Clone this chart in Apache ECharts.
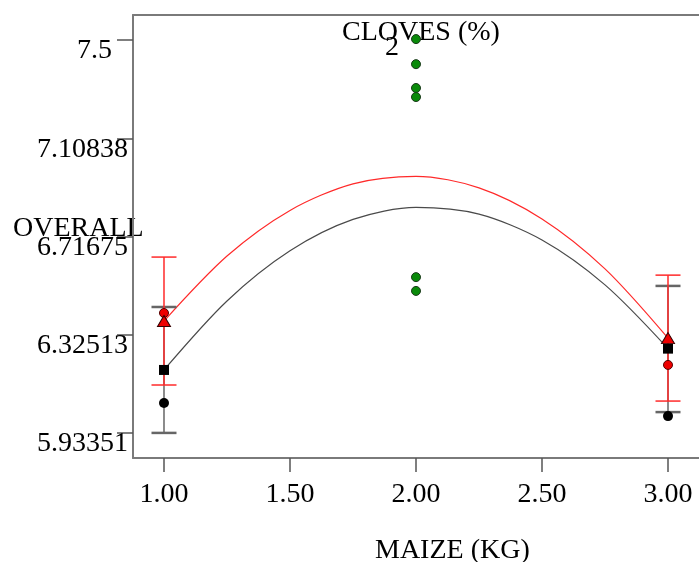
<!DOCTYPE html>
<html>
<head>
<meta charset="utf-8">
<script src="https://cdn.jsdelivr.net/npm/echarts@6/dist/echarts.min.js"></script>
<style>
  html, body { margin: 0; padding: 0; background: #fff; }
  #chart { width: 699px; height: 562px; }
</style>
</head>
<body>
<div id="chart"></div>
<script>
// values
var xTicks = [1, 1.5, 2, 2.5, 3];
var yTicks = [5.93351, 6.32513, 6.71675, 7.10838, 7.5];

// group 2 observations (green) at maize = 2
var cloves2X = [2, 2, 2, 2, 2, 2];
var cloves2Y = [7.504, 7.404, 7.309, 7.273, 6.555, 6.500];

// single observations at maize 1 and 3
var obsX = [1, 3];
var blackObs = [6.053, 6.001];
var redObs = [6.412, 6.205];

// means with error bars
var blackMean = [6.185, 6.27];
var blackLow = [5.934, 6.017];
var blackHigh = [6.436, 6.520];
var redMean = [6.380, 6.312];
var redLow = [6.125, 6.061];
var redHigh = [6.635, 6.563];

// fitted quadratic curves
var fitX = [1, 1.25, 1.5, 1.75, 2, 2.25, 2.5, 2.75, 3];
var blackFit = [6.185, 6.46, 6.66, 6.785, 6.833, 6.806, 6.703, 6.524, 6.27];
var redFit = [6.380, 6.639, 6.821, 6.927, 6.957, 6.911, 6.787, 6.588, 6.312];

function pairs(xs, ys) {
  return xs.map(function (x, i) { return [x, ys[i]]; });
}
function bars(xs, lo, hi) {
  return xs.map(function (x, i) { return [x, lo[i], hi[i]]; });
}

var serif = '"Liberation Serif", "Times New Roman", serif';

function errorBar(color, capWidth) {
  return function (params, api) {
    var x = api.value(0);
    var lo = api.coord([x, api.value(1)]);
    var hi = api.coord([x, api.value(2)]);
    var hw = 12.5;
    return {
      type: 'group',
      children: [
        { type: 'line', shape: { x1: lo[0], y1: lo[1], x2: hi[0], y2: hi[1] }, style: { stroke: color, lineWidth: 1.5 } },
        { type: 'line', shape: { x1: lo[0] - hw, y1: lo[1], x2: lo[0] + hw, y2: lo[1] }, style: { stroke: color, lineWidth: capWidth } },
        { type: 'line', shape: { x1: hi[0] - hw, y1: hi[1], x2: hi[0] + hw, y2: hi[1] }, style: { stroke: color, lineWidth: capWidth } }
      ]
    };
  };
}

var myChart = echarts.init(document.getElementById('chart'));
myChart.setOption({
  animation: false,
  backgroundColor: '#fff',
  textStyle: { fontFamily: serif },
  grid: { left: 133, right: 0, top: 15, bottom: 104 },
  xAxis: [{
    type: 'value',
    min: 0.877, max: 3.123,
    axisLine: { show: true, lineStyle: { color: '#7a7a7a', width: 2 } },
    axisTick: { show: true, length: 14, customValues: xTicks, lineStyle: { color: '#555', width: 1.5 } },
    axisLabel: {
      customValues: xTicks, margin: 23,
      fontFamily: serif, fontSize: 28, color: '#000',
      formatter: function (v) { return v.toFixed(2); }
    },
    splitLine: { show: false }
  }, {
    // top frame line only
    type: 'value', position: 'top',
    min: 0.877, max: 3.123,
    axisLine: { show: true, lineStyle: { color: '#7a7a7a', width: 2 } },
    axisTick: { show: false }, axisLabel: { show: false }, splitLine: { show: false }
  }],
  yAxis: {
    type: 'value',
    min: 5.834, max: 7.6,
    axisLine: { show: true, lineStyle: { color: '#7a7a7a', width: 2 } },
    axisTick: { show: true, length: 16, customValues: yTicks, lineStyle: { color: '#555', width: 1.5 } },
    axisLabel: {
      customValues: yTicks, margin: 5,
      fontFamily: serif, fontSize: 28, color: '#000',
      verticalAlign: 'middle',
      padding: [22, 0, 0, 0],
      formatter: function (v) { return v === 7.5 ? '{p|7.5}' : String(v); },
      rich: { p: { fontFamily: serif, fontSize: 28, color: '#000', padding: [0, 16, 0, 0] } }
    },
    splitLine: { show: false }
  },
  graphic: [
    { type: 'text', left: 13, top: 215, style: { text: 'OVERALL', font: '28px ' + serif, fill: '#000' } },
    { type: 'text', left: 342, top: 19, style: { text: 'CLOVES (%)', font: '28px ' + serif, fill: '#000' } },
    { type: 'text', left: 385, top: 34, style: { text: '2', font: '28px ' + serif, fill: '#000' } },
    { type: 'text', left: 375, top: 537, style: { text: 'MAIZE (KG)', font: '28px ' + serif, fill: '#000' } }
  ],
  series: [
    {
      type: 'line', data: pairs(fitX, blackFit), smooth: 0.3, showSymbol: false,
      lineStyle: { color: '#4a4a4a', width: 1.2 }, z: 2
    },
    {
      type: 'line', data: pairs(fitX, redFit), smooth: 0.3, showSymbol: false,
      lineStyle: { color: '#ff2a2a', width: 1.2 }, z: 2
    },
    {
      type: 'custom', data: bars(obsX, blackLow, blackHigh),
      encode: { x: 0, y: [1, 2] }, renderItem: errorBar('#666', 2.5), z: 3
    },
    {
      type: 'custom', data: bars(obsX, redLow, redHigh),
      encode: { x: 0, y: [1, 2] }, renderItem: errorBar('#ff2a2a', 1.5), z: 4
    },
    {
      type: 'scatter', data: pairs(obsX, blackObs), symbol: 'circle', symbolSize: 10,
      itemStyle: { color: '#000', opacity: 1 }, z: 5
    },
    {
      type: 'scatter', data: pairs(obsX, redObs), symbol: 'circle', symbolSize: 9,
      itemStyle: { color: '#ee0000', borderColor: '#550000', borderWidth: 1, opacity: 1 }, z: 5
    },
    {
      type: 'scatter', data: pairs(obsX, blackMean), symbol: 'rect', symbolSize: 10,
      itemStyle: { color: '#000', opacity: 1 }, z: 6
    },
    {
      type: 'scatter', data: pairs(obsX, redMean), symbol: 'triangle', symbolSize: [13, 11],
      itemStyle: { color: '#ee0000', borderColor: '#330000', borderWidth: 1, opacity: 1 }, z: 6
    },
    {
      type: 'scatter', data: pairs(cloves2X, cloves2Y), symbol: 'circle', symbolSize: 9,
      itemStyle: { color: '#0a8a0a', borderColor: '#1a3a1a', borderWidth: 1, opacity: 1 }, z: 6
    }
  ]
});
</script>
</body>
</html>
